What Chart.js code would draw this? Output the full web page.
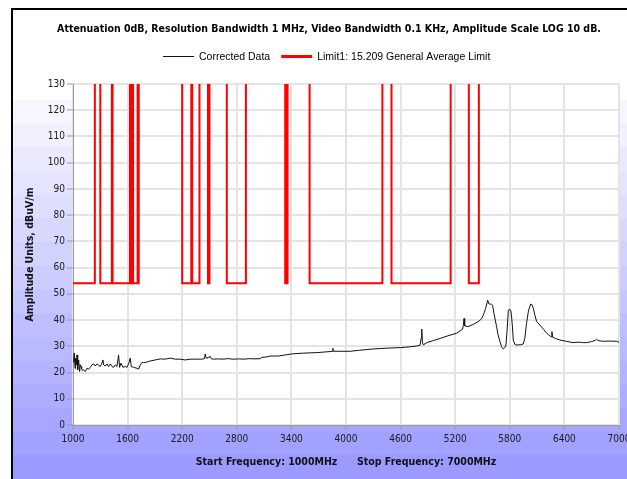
<!DOCTYPE html>
<html>
<head>
<meta charset="utf-8">
<script src="https://cdn.jsdelivr.net/npm/chart.js@4.4.1/dist/chart.umd.min.js"></script>
<style>
  html, body { margin: 0; padding: 0; overflow: hidden; background: #fff; width: 627px; height: 479px; }
  #wrap { position: absolute; left: 0; top: 0; width: 658px; height: 479px; }
</style>
</head>
<body>
<div id="wrap"><canvas id="spectrum" width="658" height="479"></canvas></div>
<script>
// ---- chart text ----
const chartTitle = 'Attenuation 0dB, Resolution Bandwidth 1 MHz, Video Bandwidth 0.1 KHz, Amplitude Scale LOG 10 dB.';
const seriesNames = ['Corrected Data', 'Limit1: 15.209 General Average Limit'];
const xAxisTitle = 'Start Frequency: 1000MHz      Stop Frequency: 7000MHz';
const yAxisTitle = 'Amplitude Units, dBuV/m';

// ---- axis ticks ----
const xTicksMHz = [1000, 1600, 2200, 2800, 3400, 4000, 4600, 5200, 5800, 6400, 7000];
const yTicksDbuV = [0, 10, 20, 30, 40, 50, 60, 70, 80, 90, 100, 110, 120, 130];

// ---- measured trace (MHz, dBuV/m) ----
const freqMHz = [
  1000, 1007, 1014, 1022, 1029, 1036, 1044, 1051, 1062, 1073,
  1080, 1088, 1095, 1102, 1117, 1135, 1153, 1172, 1190, 1208,
  1227, 1245, 1263, 1281, 1300, 1318, 1329, 1336, 1355, 1373,
  1391, 1410, 1428, 1446, 1464, 1483, 1501, 1512, 1527, 1549,
  1574, 1593, 1611, 1629, 1640, 1666, 1702, 1721, 1739, 1757,
  1776, 1794, 1830, 1849, 1904, 1959, 2014, 2068, 2123, 2178,
  2233, 2288, 2361, 2416, 2445, 2453, 2462, 2471, 2508, 2520,
  2544, 2599, 2650, 2700, 2760, 2820, 2880, 2940, 3000, 3057,
  3075, 3120, 3167, 3258, 3350, 3405, 3533, 3680, 3825, 3850,
  3855, 3862, 3899, 4045, 4150, 4300, 4450, 4600, 4700, 4777,
  4815, 4825, 4832, 4840, 4850, 4887, 4960, 5033, 5120, 5216,
  5280, 5290, 5297, 5304, 5340, 5400, 5453, 5490, 5516, 5535,
  5557, 5570, 5582, 5600, 5611, 5626, 5640, 5655, 5670, 5692,
  5710, 5728, 5745, 5758, 5770, 5784, 5802, 5812, 5820, 5830,
  5838, 5856, 5875, 5920, 5948, 5965, 5984, 6005, 6029, 6045,
  6058, 6075, 6095, 6131, 6170, 6205, 6240, 6255, 6263, 6270,
  6300, 6351, 6420, 6497, 6560, 6600, 6644, 6700, 6740, 6754,
  6770, 6826, 6900, 6973, 7000
];
const correctedDbuV = [
  24.0, 24.8, 27.4, 21.6, 25.5, 22.9, 26.7, 21.0, 24.8, 20.4,
  23.0, 22.3, 21.5, 20.8, 21.0, 20.4, 21.6, 21.3, 22.0, 22.9,
  23.3, 22.5, 23.3, 22.8, 22.3, 23.6, 24.8, 22.9, 22.5, 23.3,
  22.3, 23.3, 22.3, 22.0, 22.9, 22.3, 26.7, 22.0, 23.6, 22.0,
  22.3, 22.0, 23.3, 25.5, 22.3, 22.0, 21.6, 21.3, 22.9, 23.8,
  23.8, 23.8, 24.2, 24.4, 24.8, 25.2, 25.1, 25.5, 25.1, 25.1,
  24.8, 25.1, 25.1, 25.1, 25.3, 27.1, 25.6, 25.5, 26.1, 25.2,
  25.1, 25.2, 25.1, 25.3, 25.1, 25.2, 25.1, 25.3, 25.2, 25.3,
  25.8, 25.9, 26.3, 26.3, 26.8, 27.1, 27.4, 27.6, 28.0, 28.1,
  29.2, 28.1, 28.1, 28.1, 28.5, 29.0, 29.3, 29.5, 29.8, 30.1,
  30.4, 33.0, 36.6, 31.5, 30.5, 31.4, 32.2, 33.0, 34.0, 35.0,
  36.5, 38.0, 40.6, 37.8, 37.5, 38.4, 39.4, 40.5, 42.5, 44.5,
  47.6, 46.2, 46.1, 46.0, 45.7, 42.5, 40.0, 37.5, 34.5, 31.8,
  29.8, 29.0, 29.5, 30.5, 36.0, 43.8, 44.1, 43.5, 41.1, 37.0,
  32.4, 30.7, 30.5, 30.6, 30.9, 33.0, 38.8, 43.5, 46.1, 45.8,
  44.5, 42.0, 39.4, 38.1, 36.5, 35.0, 34.0, 33.6, 35.6, 33.5,
  33.0, 32.4, 31.9, 31.4, 31.6, 31.4, 31.4, 31.8, 32.3, 32.7,
  32.2, 31.9, 32.0, 31.9, 31.5
];

// ---- 15.209 average limit: 54 dBuV/m inside restricted bands, off-scale elsewhere ----
const limitFreqMHz = [
  1000, 1240, 1300, 1427, 1435, 1626.5, 1645.5, 1646.5, 1660, 1710,
  1718.8, 1722.2, 2200, 2300, 2310, 2390, 2483.5, 2500, 2690, 2900,
  3332, 3339, 3345.8, 3358, 3600, 4400, 4500, 5150, 5350, 5460, 7000
];
const limitDbuV = [
  54, 200, 54, 200, 54, 200, 54, 200, 54, 200,
  54, 200, 54, 200, 54, 200, 54, 200, 54, 200,
  54, 200, 54, 200, 54, 200, 54, 200, 54, 200, 200
];

const condensed = "'DejaVu Sans Condensed', 'DejaVu Sans', sans-serif";
const plain = "'Liberation Sans', Arial, sans-serif";
const legendLineWidths = [1, 3];

// Page backdrop: white header, stepped lavender bands, dark frame, white plot area.
const backdrop = {
  id: 'backdrop',
  beforeDraw(chart) {
    const { ctx, width, height, chartArea: a } = chart;
    ctx.save();
    ctx.fillStyle = '#ffffff';
    ctx.fillRect(0, 0, width, height);
    const top = 100, bands = 16, h = (height - top) / bands;
    for (let i = 0; i < bands; i++) {
      const t = i / (bands - 1);
      const rg = Math.round(246 - t * (246 - 155));
      const b = Math.round(254 + t);
      ctx.fillStyle = `rgb(${rg},${rg},${b})`;
      ctx.fillRect(13, Math.round(top + i * h), width, Math.ceil(h) + 1);
    }
    ctx.fillStyle = '#ffffff';
    ctx.fillRect(a.left, a.top, a.right - a.left, a.bottom - a.top);
    ctx.fillStyle = '#000000';
    ctx.fillRect(11, 8, width, 2);
    ctx.fillRect(11, 8, 2, height);
    ctx.restore();
  }
};

// Series key: a short line sample followed by the series name, one row under the title.
const seriesKey = {
  id: 'seriesKey',
  afterDraw(chart) {
    const { ctx, width } = chart;
    const sample = 31, gap = 5, between = 11, y = 56;
    ctx.save();
    ctx.font = `10.5px ${plain}`;
    ctx.textBaseline = 'middle';
    ctx.textAlign = 'left';
    const sets = chart.data.datasets;
    const widths = sets.map(ds => sample + gap + ctx.measureText(ds.label).width);
    const total = widths.reduce((s, w) => s + w, 0) + between * (sets.length - 1);
    let x = Math.round(width / 2 - total / 2) - 2;
    sets.forEach((ds, i) => {
      ctx.strokeStyle = ds.borderColor;
      ctx.lineWidth = legendLineWidths[i];
      ctx.beginPath();
      const ly = legendLineWidths[i] % 2 ? y + 0.5 : y;
      ctx.moveTo(x, ly);
      ctx.lineTo(x + sample, ly);
      ctx.stroke();
      ctx.fillStyle = '#000000';
      ctx.fillText(ds.label, x + sample + gap, y + 1);
      x += widths[i] + between;
    });
    ctx.restore();
  }
};

new Chart(document.getElementById('spectrum'), {
  type: 'line',
  data: {
    datasets: [
      {
        label: seriesNames[0],
        data: freqMHz.map((f, i) => ({ x: f, y: correctedDbuV[i] })),
        borderColor: '#111111',
        borderWidth: 1,
        pointRadius: 0,
        tension: 0
      },
      {
        label: seriesNames[1],
        data: limitFreqMHz.map((f, i) => ({ x: f, y: limitDbuV[i] })),
        borderColor: '#ff0000',
        borderWidth: 2,
        pointRadius: 0,
        stepped: 'before'
      }
    ]
  },
  options: {
    responsive: false,
    devicePixelRatio: 1,
    animation: false,
    events: [],
    layout: { padding: { left: 0, right: 0, top: 0, bottom: 0 } },
    plugins: {
      tooltip: { enabled: false },
      legend: { display: false },
      title: {
        display: true,
        text: chartTitle,
        color: '#000000',
        font: { family: condensed, size: 10.5, weight: 'bold' },
        padding: { top: 23, bottom: 48 }
      }
    },
    scales: {
      x: {
        type: 'linear',
        min: 1000,
        max: 7000,
        afterBuildTicks: (s) => { s.ticks = xTicksMHz.map(v => ({ value: v })); },
        afterFit: (s) => { s.height = 54; s.paddingLeft = 0; s.paddingRight = 39; },
        grid: { color: '#e4e4e4', lineWidth: 2, tickColor: '#999999', tickWidth: 1, tickLength: 5 },
        border: { color: '#9a9a9a', width: 1 },
        ticks: {
          color: '#1a1a1a',
          font: { family: condensed, size: 10 },
          padding: 3,
          maxRotation: 0,
          autoSkip: false,
          callback: (v) => String(v)
        },
        title: {
          display: true,
          text: xAxisTitle,
          color: '#111111',
          font: { family: condensed, size: 10.5, weight: 'bold' },
          padding: { top: 0, bottom: 10 }
        }
      },
      y: {
        type: 'linear',
        min: 0,
        max: 130,
        afterBuildTicks: (s) => { s.ticks = yTicksDbuV.map(v => ({ value: v })); },
        afterFit: (s) => { s.width = 73; s.paddingTop = 84; },
        grid: { color: '#e4e4e4', lineWidth: 2, tickColor: '#999999', tickWidth: 1, tickLength: 6 },
        border: { color: '#9a9a9a', width: 1 },
        ticks: {
          color: '#1a1a1a',
          font: { family: condensed, size: 10 },
          padding: 2,
          autoSkip: false,
          callback: (v) => String(v)
        },
        title: {
          display: true,
          text: yAxisTitle,
          color: '#111111',
          font: { family: condensed, size: 10.5, weight: 'bold' },
          padding: { top: 24, bottom: 0 }
        }
      }
    }
  },
  plugins: [backdrop, seriesKey]
});
</script>
</body>
</html>
